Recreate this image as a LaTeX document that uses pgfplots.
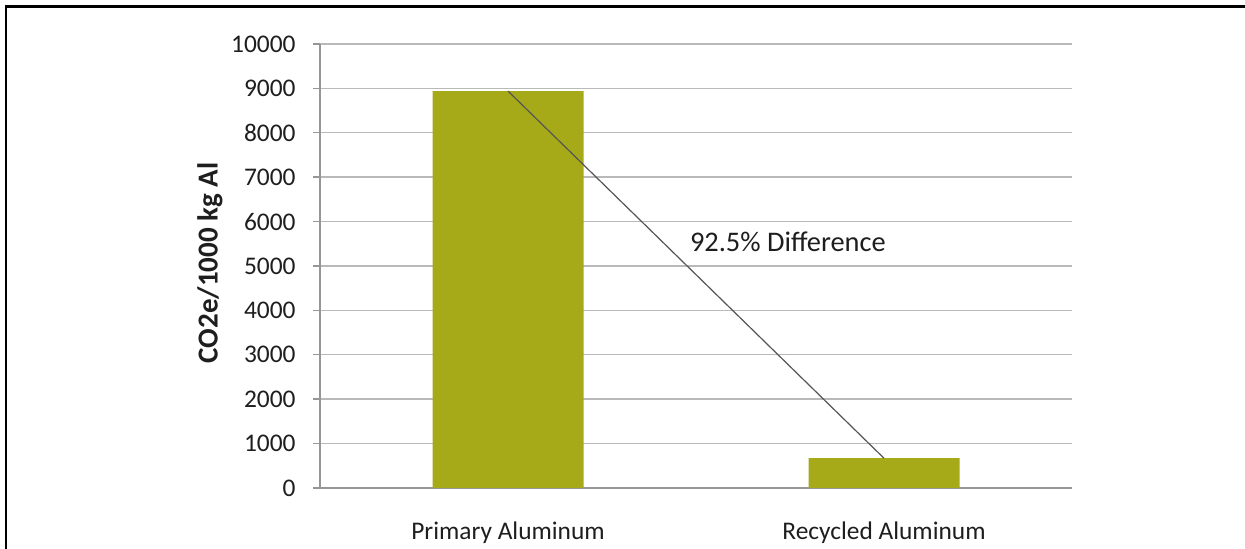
\documentclass[border=0pt]{standalone}
\usepackage{pgfplots}
\pgfplotsset{compat=1.18}
\usepackage{fontspec}
\setmainfont{Carlito}
\definecolor{barolive}{RGB}{166,170,25}
\definecolor{gridgray}{RGB}{185,185,185}
\definecolor{axisgray}{RGB}{150,150,150}
\definecolor{linegray}{RGB}{85,85,85}
\definecolor{txt}{RGB}{30,30,30}
\begin{document}
\begin{tikzpicture}
\useasboundingbox (0,0) rectangle (622.5pt,274.5pt);
\draw[line width=1.2pt] (3pt,0) -- (3pt,271.3pt) -- (622.5pt,271.3pt);
\begin{axis}[
  at={(160pt,30.5pt)}, anchor=south west,
  scale only axis, width=376pt, height=222pt,
  xmin=-0.5, xmax=1.5, ymin=0, ymax=10000,
  xtick={0,1}, xticklabels={Primary Aluminum, Recycled Aluminum},
  ytick={0,1000,...,10000},
  scaled y ticks=false,
  axis lines*=left,
  axis line style={axisgray, line width=0.7pt},
  ymajorgrids, grid style={gridgray, line width=0.7pt},
  major x tick style={draw=none},
  major y tick style={axisgray, line width=0.7pt},
  tick align=outside, major tick length=3.5pt,
  /pgf/number format/assume math mode=true,
  /pgf/number format/set thousands separator={},
  /pgf/number format/fixed,
  tick label style={font=\fontsize{12.7}{14}\selectfont, text=txt},
  yticklabel style={anchor=east, inner sep=0pt, xshift=-8.5pt},
  xticklabel style={anchor=base, inner sep=0pt, yshift=-22.5pt},
  ylabel={CO2e/1000 kg Al},
  every axis y label/.style={at={(axis description cs:0,0.5)}, xshift=-55pt, yshift=1.5pt, rotate=90, anchor=center, font=\fontsize{14.5}{16}\selectfont\bfseries, text=txt},
  clip=false,
]
\addplot[ybar, bar width=75.5pt, fill=barolive, draw=none] coordinates {(0,8940) (1,670)};
\addplot[sharp plot, no marks, linegray, line width=0.6pt] coordinates {(0,8940) (1,670)};
\node[anchor=west, inner sep=0pt, font=\fontsize{14.2}{16}\selectfont, text=txt] at (axis cs:0.483,5540) {92.5\% Difference};
\end{axis}
\end{tikzpicture}
\end{document}
